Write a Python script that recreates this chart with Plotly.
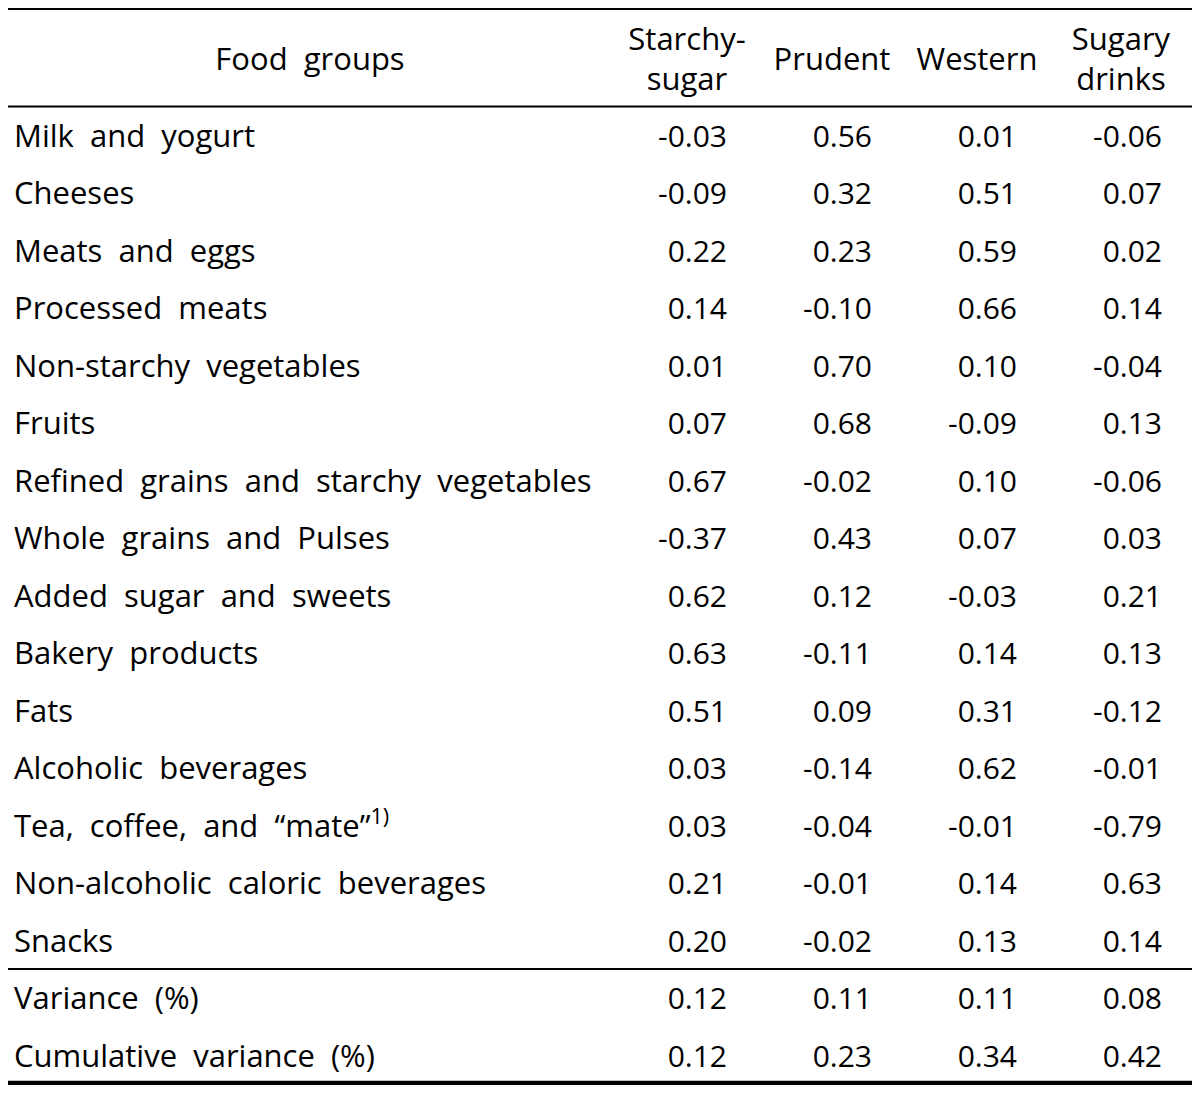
import plotly.graph_objects as go

food_groups = [
    "Milk and yogurt", "Cheeses", "Meats and eggs", "Processed meats",
    "Non-starchy vegetables", "Fruits", "Refined grains and starchy vegetables",
    "Whole grains and Pulses", "Added sugar and sweets", "Bakery products", "Fats",
    "Alcoholic beverages", "Tea, coffee, and \u201cmate\u201d<sup>1)</sup>",
    "Non-alcoholic caloric beverages", "Snacks",
]
summary_labels = ["Variance (%)", "Cumulative variance (%)"]
columns = ["Starchy-<br>sugar", "Prudent", "Western", "Sugary<br>drinks"]

starchy_sugar = [-0.03, -0.09, 0.22, 0.14, 0.01, 0.07, 0.67, -0.37, 0.62, 0.63, 0.51, 0.03, 0.03, 0.21, 0.20]
prudent = [0.56, 0.32, 0.23, -0.10, 0.70, 0.68, -0.02, 0.43, 0.12, -0.11, 0.09, -0.14, -0.04, -0.01, -0.02]
western = [0.01, 0.51, 0.59, 0.66, 0.10, -0.09, 0.10, 0.07, -0.03, 0.14, 0.31, 0.62, -0.01, 0.14, 0.13]
sugary_drinks = [-0.06, 0.07, 0.02, 0.14, -0.04, 0.13, -0.06, 0.03, 0.21, 0.13, -0.12, -0.01, -0.79, 0.63, 0.14]
variance = [0.12, 0.11, 0.11, 0.08]
cumulative_variance = [0.12, 0.23, 0.34, 0.42]

FONT = "Open Sans"
FS_LABEL = 31
FS_NUM = 30
W, H = 1200, 1093
PAD = 8  # default page body margin

def spaced(s):
    return s.replace(" ", "\u00a0 ")

row_labels = [spaced(s) for s in food_groups] + [spaced(s) for s in summary_labels]
n = len(row_labels)
row_y = [139 + i * 57.5 for i in range(n)]

series = [starchy_sugar, prudent, western, sugary_drinks]
summ = [variance, cumulative_variance]
col_right = [727, 872, 1017, 1162]
col_center = [687, 832, 977, 1121]

fig = go.Figure()

# header
fig.add_trace(go.Scatter(
    x=[310] + col_center, y=[62, 62, 62, 62, 62],
    text=[spaced("Food groups")] + columns,
    mode="text", textposition="middle center",
    textfont=dict(family=FONT, size=FS_LABEL, color="black"),
    hoverinfo="skip", showlegend=False))

# row labels
fig.add_trace(go.Scatter(
    x=[14] * n, y=row_y, text=row_labels,
    mode="text", textposition="middle right",
    textfont=dict(family=FONT, size=FS_LABEL, color="black"),
    hoverinfo="skip", showlegend=False))

# values
for j, col in enumerate(series):
    vals = list(col) + [summ[0][j], summ[1][j]]
    fig.add_trace(go.Scatter(
        x=[col_right[j]] * n, y=row_y,
        text=[f"{v:.2f}" for v in vals],
        mode="text", textposition="middle left",
        textfont=dict(family=FONT, size=FS_NUM, color="black"),
        hoverinfo="skip", showlegend=False))

lines = [(8, 4), (106.5, 2), (969, 2), (1083, 4.5)]
for yy, w in lines:
    fig.add_shape(type="line", x0=5, x1=1195, y0=yy, y1=yy, xref="x", yref="y",
                  line=dict(color="black", width=w))

fig.update_layout(
    width=W - 2 * PAD, height=H - 2 * PAD, margin=dict(l=0, r=0, t=0, b=0),
    paper_bgcolor="white", plot_bgcolor="white",
    xaxis=dict(range=[PAD, W - PAD], visible=False, fixedrange=True),
    yaxis=dict(range=[H - PAD, PAD], visible=False, fixedrange=True),
)
fig.write_html("out.html")
